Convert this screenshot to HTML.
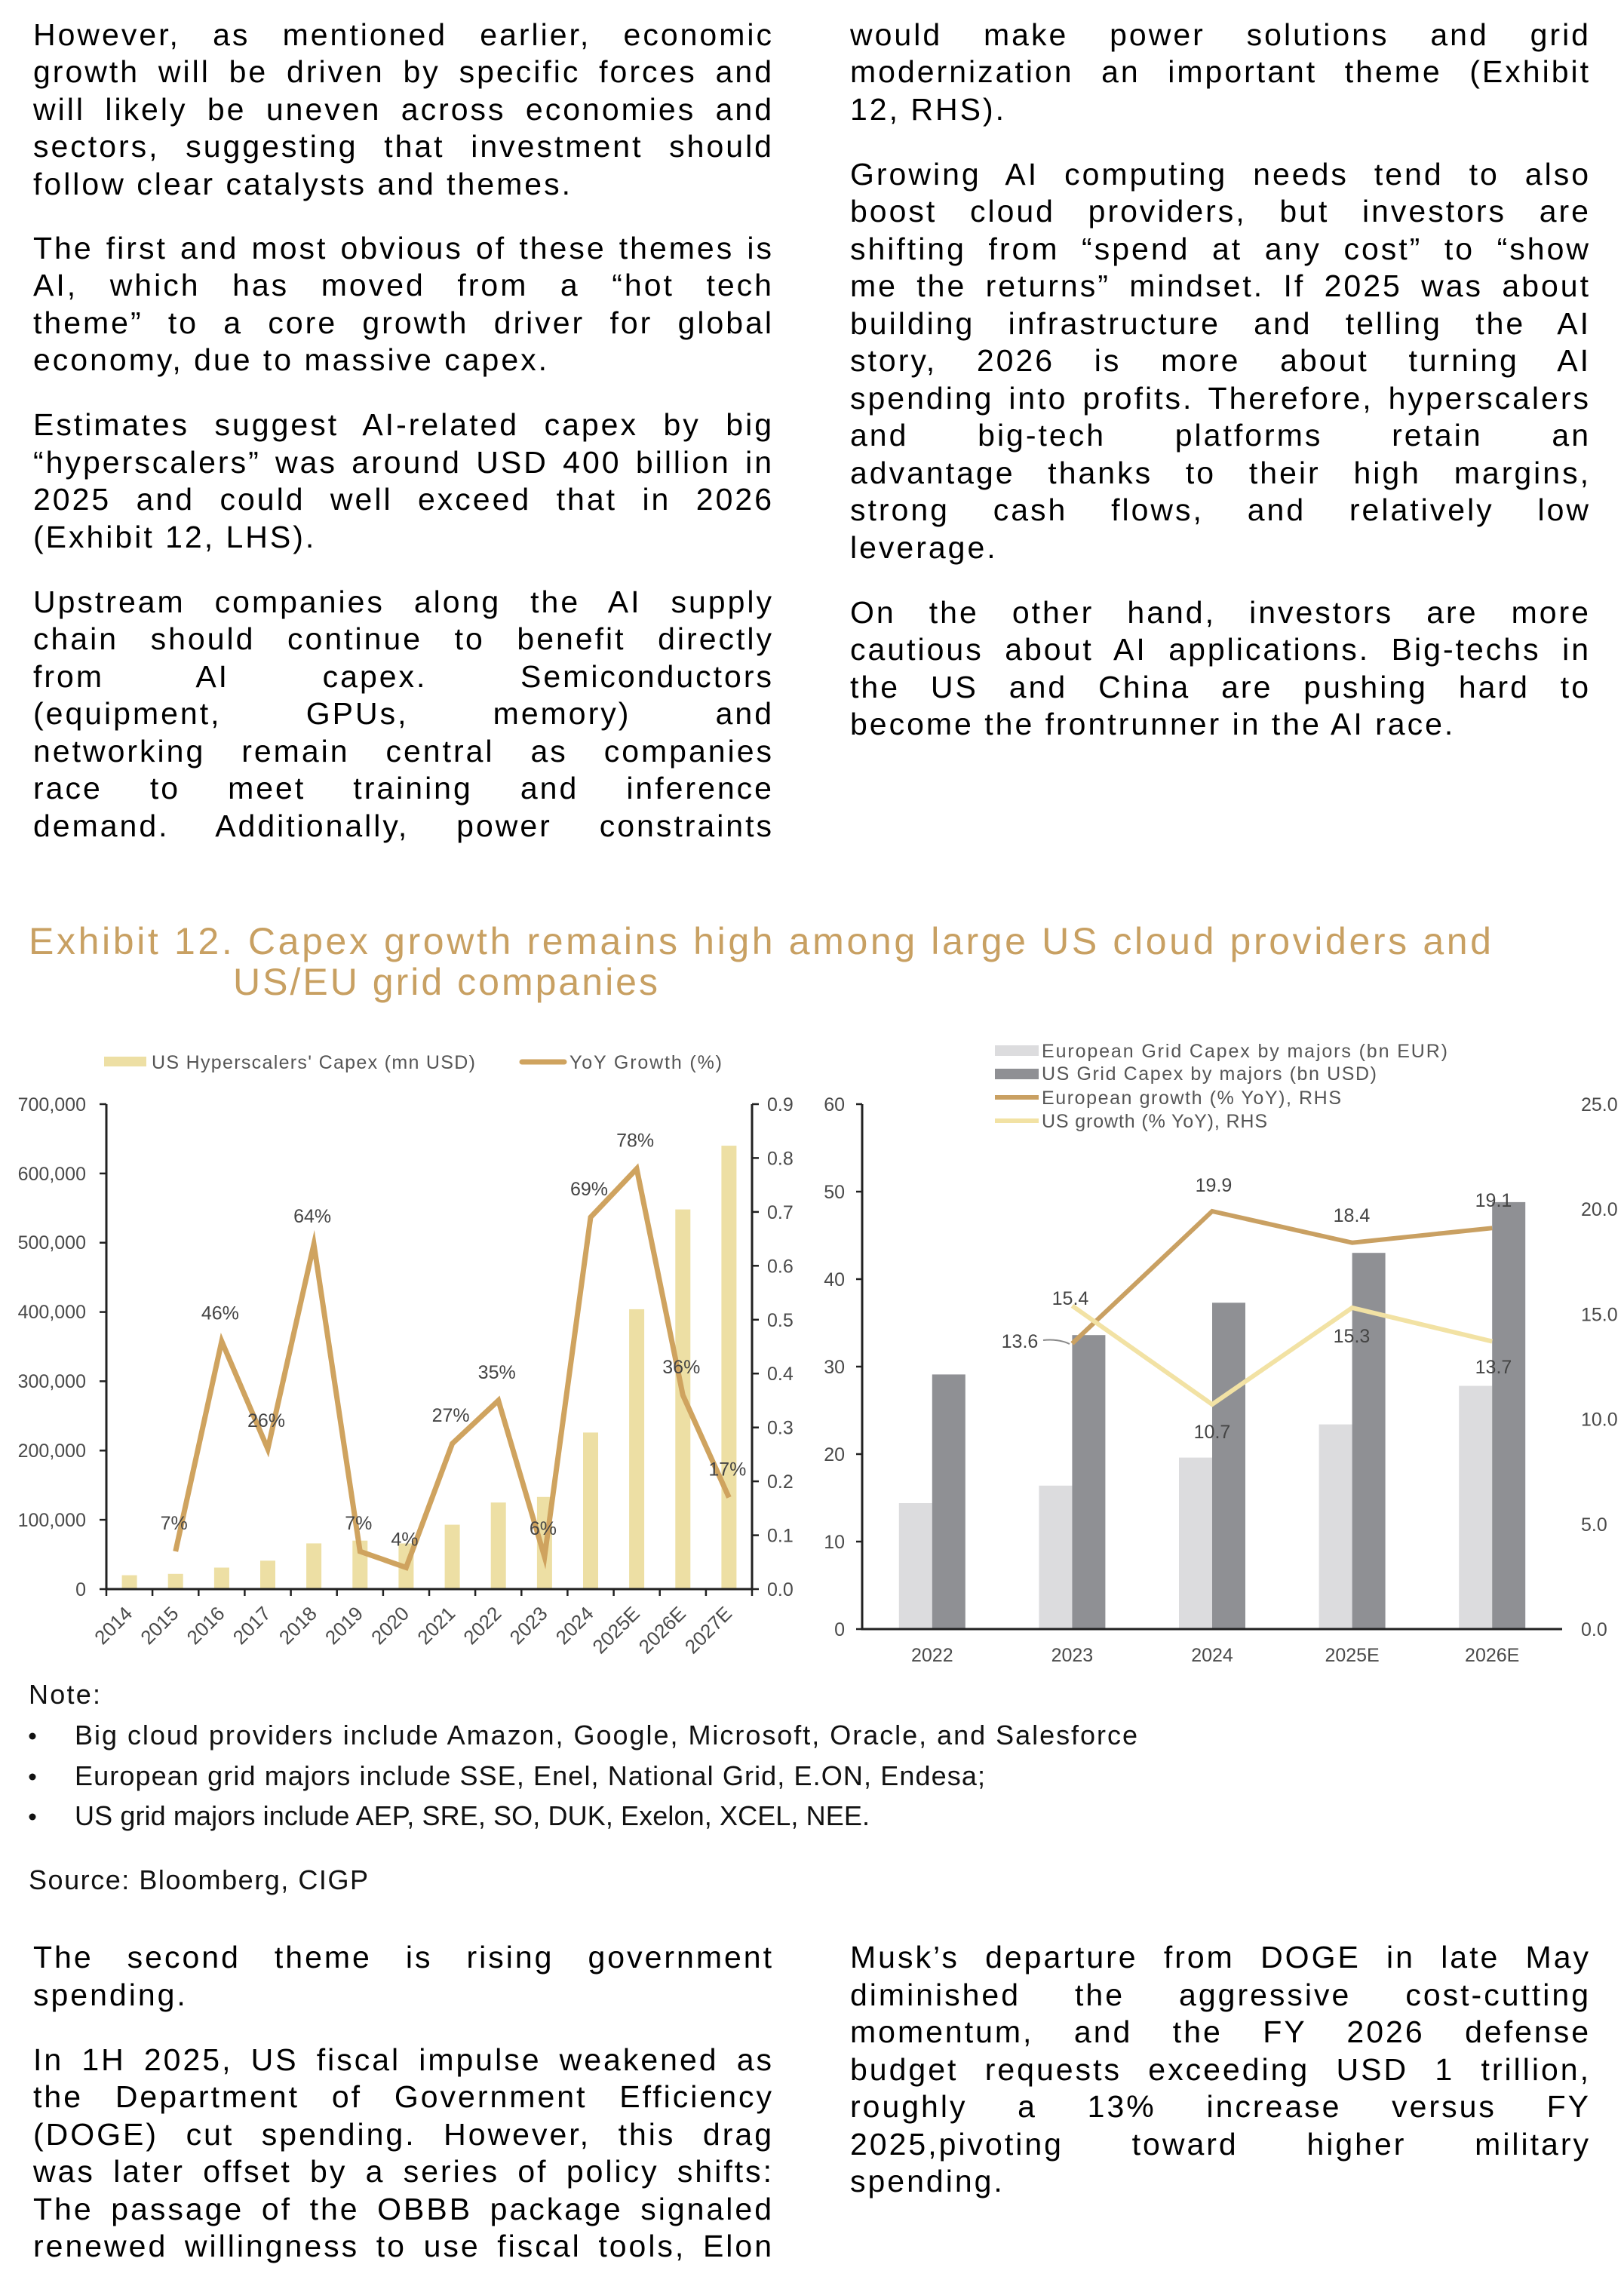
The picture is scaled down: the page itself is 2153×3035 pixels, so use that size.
<!DOCTYPE html>
<html><head><meta charset="utf-8">
<style>
html,body{margin:0;padding:0;background:#fff;}
#page{position:relative;width:2153px;height:3035px;overflow:hidden;background:#fff;}
.p{position:absolute;width:982px;font-family:"Liberation Sans",sans-serif;font-size:41px;line-height:49.5px;letter-spacing:3px;color:#000;}
.p div{height:49.5px;text-align:justify;text-align-last:justify;}
.p div.l{text-align:left;text-align-last:left;}
svg{position:absolute;left:0;top:0;}
</style></head>
<body><div id="page">

<div class="p" style="left:44px;top:21.5px">
<div>However, as mentioned earlier, economic</div>
<div>growth will be driven by specific forces and</div>
<div>will likely be uneven across economies and</div>
<div>sectors, suggesting that investment should</div>
<div class="l">follow clear catalysts and themes.</div>
</div>
<div class="p" style="left:44px;top:304.5px">
<div>The first and most obvious of these themes is</div>
<div>AI, which has moved from a “hot tech</div>
<div>theme” to a core growth driver for global</div>
<div class="l">economy, due to massive capex.</div>
</div>
<div class="p" style="left:44px;top:539px">
<div>Estimates suggest AI-related capex by big</div>
<div>“hyperscalers” was around USD 400 billion in</div>
<div>2025 and could well exceed that in 2026</div>
<div class="l">(Exhibit 12, LHS).</div>
</div>
<div class="p" style="left:44px;top:773.5px">
<div>Upstream companies along the AI supply</div>
<div>chain should continue to benefit directly</div>
<div>from AI capex. Semiconductors</div>
<div>(equipment, GPUs, memory) and</div>
<div>networking remain central as companies</div>
<div>race to meet training and inference</div>
<div>demand. Additionally, power constraints</div>
</div>

<div class="p" style="left:1127px;top:21.5px">
<div>would make power solutions and grid</div>
<div>modernization an important theme (Exhibit</div>
<div class="l">12, RHS).</div>
</div>
<div class="p" style="left:1127px;top:206.5px">
<div>Growing AI computing needs tend to also</div>
<div>boost cloud providers, but investors are</div>
<div>shifting from “spend at any cost” to “show</div>
<div>me the returns” mindset. If 2025 was about</div>
<div>building infrastructure and telling the AI</div>
<div>story, 2026 is more about turning AI</div>
<div>spending into profits. Therefore, hyperscalers</div>
<div>and big-tech platforms retain an</div>
<div>advantage thanks to their high margins,</div>
<div>strong cash flows, and relatively low</div>
<div class="l">leverage.</div>
</div>
<div class="p" style="left:1127px;top:787.5px">
<div>On the other hand, investors are more</div>
<div>cautious about AI applications. Big-techs in</div>
<div>the US and China are pushing hard to</div>
<div class="l">become the frontrunner in the AI race.</div>
</div>

<div class="p" style="left:44px;top:2571px">
<div>The second theme is rising government</div>
<div class="l">spending.</div>
</div>
<div class="p" style="left:44px;top:2706.5px">
<div>In 1H 2025, US fiscal impulse weakened as</div>
<div>the Department of Government Efficiency</div>
<div>(DOGE) cut spending. However, this drag</div>
<div>was later offset by a series of policy shifts:</div>
<div>The passage of the OBBB package signaled</div>
<div>renewed willingness to use fiscal tools, Elon</div>
</div>
<div class="p" style="left:1127px;top:2571px">
<div>Musk’s departure from DOGE in late May</div>
<div>diminished the aggressive cost-cutting</div>
<div>momentum, and the FY 2026 defense</div>
<div>budget requests exceeding USD 1 trillion,</div>
<div>roughly a 13% increase versus FY</div>
<div>2025,pivoting toward higher military</div>
<div class="l">spending.</div>
</div>

<svg width="2153" height="3035" viewBox="0 0 2153 3035" font-family="'Liberation Sans', sans-serif">
<!-- Title -->
<text x="38" y="1265" font-size="50" fill="#c8a062" textLength="1939" lengthAdjust="spacing">Exhibit 12. Capex growth remains high among large US cloud providers and</text>
<text x="309" y="1319" font-size="50" fill="#c8a062" textLength="563" lengthAdjust="spacing">US/EU grid companies</text>

<!-- LEFT CHART legend -->
<rect x="138" y="1401" width="56" height="13" fill="#eddfa4"/>
<text x="201" y="1417" font-size="25" fill="#555" textLength="429" lengthAdjust="spacing">US Hyperscalers' Capex (mn USD)</text>
<line x1="692" y1="1408" x2="748" y2="1408" stroke="#cfa35f" stroke-width="7" stroke-linecap="round"/>
<text x="755" y="1417" font-size="25" fill="#555" textLength="202" lengthAdjust="spacing">YoY Growth (%)</text>

<!-- left chart bars -->
<g fill="#eddfa4">
<rect x="161.6" y="2088.6" width="20" height="18.4"/>
<rect x="222.7" y="2086.8" width="20" height="20.2"/>
<rect x="283.9" y="2078.5" width="20" height="28.5"/>
<rect x="345" y="2069.3" width="20" height="37.7"/>
<rect x="406.1" y="2046.4" width="20" height="60.6"/>
<rect x="467.3" y="2042.7" width="20" height="64.3"/>
<rect x="528.4" y="2046.4" width="20" height="60.6"/>
<rect x="589.6" y="2021.6" width="20" height="85.4"/>
<rect x="650.7" y="1992.2" width="20" height="114.8"/>
<rect x="711.9" y="1984.8" width="20" height="122.2"/>
<rect x="773" y="1899.4" width="20" height="207.6"/>
<rect x="834.1" y="1735.9" width="20" height="371.1"/>
<rect x="895.3" y="1603.6" width="20" height="503.4"/>
<rect x="956.4" y="1519.1" width="20" height="587.9"/>
</g>

<!-- left chart axes -->
<g stroke="#222" stroke-width="3" fill="none">
<line x1="141" y1="1464" x2="141" y2="2108"/>
<line x1="997" y1="1464" x2="997" y2="2108"/>
<line x1="139.5" y1="2107" x2="998.5" y2="2107"/>
</g>
<g stroke="#222" stroke-width="2.5">
<line x1="132" y1="2107" x2="141" y2="2107"/>
<line x1="132" y1="2015.1" x2="141" y2="2015.1"/>
<line x1="132" y1="1923.3" x2="141" y2="1923.3"/>
<line x1="132" y1="1831.4" x2="141" y2="1831.4"/>
<line x1="132" y1="1739.6" x2="141" y2="1739.6"/>
<line x1="132" y1="1647.7" x2="141" y2="1647.7"/>
<line x1="132" y1="1555.9" x2="141" y2="1555.9"/>
<line x1="132" y1="1464" x2="141" y2="1464"/>
<line x1="997" y1="2107" x2="1006" y2="2107"/>
<line x1="997" y1="2035.6" x2="1006" y2="2035.6"/>
<line x1="997" y1="1964.1" x2="1006" y2="1964.1"/>
<line x1="997" y1="1892.7" x2="1006" y2="1892.7"/>
<line x1="997" y1="1821.2" x2="1006" y2="1821.2"/>
<line x1="997" y1="1749.8" x2="1006" y2="1749.8"/>
<line x1="997" y1="1678.3" x2="1006" y2="1678.3"/>
<line x1="997" y1="1606.9" x2="1006" y2="1606.9"/>
<line x1="997" y1="1535.4" x2="1006" y2="1535.4"/>
<line x1="997" y1="1464" x2="1006" y2="1464"/>
<line x1="141" y1="2107" x2="141" y2="2116"/>
<line x1="202.1" y1="2107" x2="202.1" y2="2116"/>
<line x1="263.3" y1="2107" x2="263.3" y2="2116"/>
<line x1="324.4" y1="2107" x2="324.4" y2="2116"/>
<line x1="385.6" y1="2107" x2="385.6" y2="2116"/>
<line x1="446.7" y1="2107" x2="446.7" y2="2116"/>
<line x1="507.9" y1="2107" x2="507.9" y2="2116"/>
<line x1="569" y1="2107" x2="569" y2="2116"/>
<line x1="630.1" y1="2107" x2="630.1" y2="2116"/>
<line x1="691.3" y1="2107" x2="691.3" y2="2116"/>
<line x1="752.4" y1="2107" x2="752.4" y2="2116"/>
<line x1="813.6" y1="2107" x2="813.6" y2="2116"/>
<line x1="874.7" y1="2107" x2="874.7" y2="2116"/>
<line x1="935.9" y1="2107" x2="935.9" y2="2116"/>
<line x1="997" y1="2107" x2="997" y2="2116"/>
</g>

<!-- left chart axis labels -->
<g font-size="25" fill="#4a4a4a" text-anchor="end">
<text x="114" y="2116">0</text>
<text x="114" y="2024">100,000</text>
<text x="114" y="1932">200,000</text>
<text x="114" y="1840">300,000</text>
<text x="114" y="1748">400,000</text>
<text x="114" y="1656">500,000</text>
<text x="114" y="1565">600,000</text>
<text x="114" y="1473">700,000</text>
</g>
<g font-size="25" fill="#4a4a4a">
<text x="1017" y="2116">0.0</text>
<text x="1017" y="2044.6">0.1</text>
<text x="1017" y="1973.1">0.2</text>
<text x="1017" y="1901.7">0.3</text>
<text x="1017" y="1830.2">0.4</text>
<text x="1017" y="1758.8">0.5</text>
<text x="1017" y="1687.3">0.6</text>
<text x="1017" y="1615.9">0.7</text>
<text x="1017" y="1544.4">0.8</text>
<text x="1017" y="1473">0.9</text>
</g>
<g font-size="26" fill="#4a4a4a" text-anchor="end">
<text x="177" y="2141" transform="rotate(-45 177 2141)">2014</text>
<text x="238.2" y="2141" transform="rotate(-45 238.2 2141)">2015</text>
<text x="299.4" y="2141" transform="rotate(-45 299.4 2141)">2016</text>
<text x="360.5" y="2141" transform="rotate(-45 360.5 2141)">2017</text>
<text x="421.6" y="2141" transform="rotate(-45 421.6 2141)">2018</text>
<text x="482.8" y="2141" transform="rotate(-45 482.8 2141)">2019</text>
<text x="543.9" y="2141" transform="rotate(-45 543.9 2141)">2020</text>
<text x="605.1" y="2141" transform="rotate(-45 605.1 2141)">2021</text>
<text x="666.2" y="2141" transform="rotate(-45 666.2 2141)">2022</text>
<text x="727.4" y="2141" transform="rotate(-45 727.4 2141)">2023</text>
<text x="788.5" y="2141" transform="rotate(-45 788.5 2141)">2024</text>
<text x="849.6" y="2141" transform="rotate(-45 849.6 2141)">2025E</text>
<text x="910.8" y="2141" transform="rotate(-45 910.8 2141)">2026E</text>
<text x="971.9" y="2141" transform="rotate(-45 971.9 2141)">2027E</text>
</g>

<!-- left chart line -->
<polyline fill="none" stroke="#cfa35f" stroke-width="7" stroke-linejoin="miter" stroke-miterlimit="10"
points="232.7,2057 293.9,1778.4 355,1921.2 416.1,1649.8 477.3,2057 538.4,2078.4 599.6,1914.1 660.7,1856.9 721.9,2064.1 783,1614 844.1,1549.7 905.3,1849.8 966.4,1985.5"/>

<g font-size="25" fill="#444" text-anchor="middle">
<text x="230.7" y="2028">7%</text>
<text x="291.9" y="1749.4">46%</text>
<text x="353" y="1892.2">26%</text>
<text x="414.1" y="1620.8">64%</text>
<text x="475.3" y="2028">7%</text>
<text x="536.4" y="2049.4">4%</text>
<text x="597.6" y="1885.1">27%</text>
<text x="658.7" y="1827.9">35%</text>
<text x="719.9" y="2035.1">6%</text>
<text x="781" y="1585">69%</text>
<text x="842.1" y="1520.7">78%</text>
<text x="903.3" y="1820.8">36%</text>
<text x="964.4" y="1956.5">17%</text>
</g>

<!-- RIGHT CHART legend -->
<rect x="1319" y="1386" width="58" height="14" fill="#dcdcde"/>
<text x="1381" y="1402" font-size="25" fill="#555" textLength="538" lengthAdjust="spacing">European Grid Capex by majors (bn EUR)</text>
<rect x="1319" y="1417" width="58" height="14" fill="#8f9094"/>
<text x="1381" y="1432" font-size="25" fill="#555" textLength="444" lengthAdjust="spacing">US Grid Capex by majors (bn USD)</text>
<line x1="1319" y1="1455" x2="1377" y2="1455" stroke="#c9a062" stroke-width="6"/>
<text x="1381" y="1464" font-size="25" fill="#555" textLength="397" lengthAdjust="spacing">European growth (% YoY), RHS</text>
<line x1="1319" y1="1486" x2="1377" y2="1486" stroke="#f2e2a4" stroke-width="6"/>
<text x="1381" y="1495" font-size="25" fill="#555" textLength="299" lengthAdjust="spacing">US growth (% YoY), RHS</text>

<!-- right chart bars -->
<g fill="#dcdcde">
<rect x="1191.8" y="1993" width="44" height="167"/>
<rect x="1377.4" y="1969.8" width="44" height="190.2"/>
<rect x="1563" y="1932.6" width="44" height="227.4"/>
<rect x="1748.6" y="1888.6" width="44" height="271.4"/>
<rect x="1934.2" y="1837.5" width="44" height="322.5"/>
</g>
<g fill="#8f9094">
<rect x="1235.8" y="1822.4" width="44" height="337.6"/>
<rect x="1421.4" y="1770.2" width="44" height="389.8"/>
<rect x="1607" y="1727.3" width="44" height="432.7"/>
<rect x="1792.6" y="1661.2" width="44" height="498.8"/>
<rect x="1978.2" y="1593.9" width="44" height="566.1"/>
</g>

<!-- right chart axes -->
<g stroke="#222" stroke-width="3">
<line x1="1143" y1="1464" x2="1143" y2="2161"/>
<line x1="1141.5" y1="2160" x2="2071" y2="2160"/>
</g>
<g stroke="#222" stroke-width="2.5">
<line x1="1135" y1="2160" x2="1143" y2="2160"/>
<line x1="1135" y1="2044" x2="1143" y2="2044"/>
<line x1="1135" y1="1928" x2="1143" y2="1928"/>
<line x1="1135" y1="1812" x2="1143" y2="1812"/>
<line x1="1135" y1="1696" x2="1143" y2="1696"/>
<line x1="1135" y1="1580" x2="1143" y2="1580"/>
<line x1="1135" y1="1464" x2="1143" y2="1464"/>
</g>
<g font-size="25" fill="#4a4a4a" text-anchor="end">
<text x="1120" y="2169">0</text>
<text x="1120" y="2053">10</text>
<text x="1120" y="1937">20</text>
<text x="1120" y="1821">30</text>
<text x="1120" y="1705">40</text>
<text x="1120" y="1589">50</text>
<text x="1120" y="1473">60</text>
</g>
<g font-size="25" fill="#4a4a4a">
<text x="2096" y="2169">0.0</text>
<text x="2096" y="2029.8">5.0</text>
<text x="2096" y="1890.6">10.0</text>
<text x="2096" y="1751.4">15.0</text>
<text x="2096" y="1612.2">20.0</text>
<text x="2096" y="1473">25.0</text>
</g>
<g font-size="25" fill="#4a4a4a" text-anchor="middle">
<text x="1235.8" y="2203">2022</text>
<text x="1421.4" y="2203">2023</text>
<text x="1607" y="2203">2024</text>
<text x="1792.6" y="2203">2025E</text>
<text x="1978.2" y="2203">2026E</text>
</g>

<!-- right chart lines -->
<polyline fill="none" stroke="#c9a062" stroke-width="6" points="1421.4,1781.4 1607,1606 1792.6,1647.7 1978.2,1628.3"/>
<polyline fill="none" stroke="#f2e2a4" stroke-width="6" points="1421.4,1731.3 1607,1862.1 1792.6,1734 1978.2,1778.6"/>
<path d="M1383,1777 Q1404,1775 1418,1782" fill="none" stroke="#888" stroke-width="2"/>
<g font-size="25" fill="#444" text-anchor="middle">
<text x="1609" y="1580">19.9</text>
<text x="1792" y="1620">18.4</text>
<text x="1980" y="1600">19.1</text>
<text x="1419" y="1730">15.4</text>
<text x="1352" y="1787">13.6</text>
<text x="1792" y="1780">15.3</text>
<text x="1980" y="1821">13.7</text>
<text x="1607" y="1907">10.7</text>
</g>

<!-- Notes -->
<g font-size="36" fill="#111">
<text x="38" y="2259" textLength="95" lengthAdjust="spacing">Note:</text>
<circle cx="43" cy="2302" r="4.5"/>
<text x="99" y="2313" textLength="1409" lengthAdjust="spacing">Big cloud providers include Amazon, Google, Microsoft, Oracle, and Salesforce</text>
<circle cx="43" cy="2356" r="4.5"/>
<text x="99" y="2367" textLength="1207" lengthAdjust="spacing">European grid majors include SSE, Enel, National Grid, E.ON, Endesa;</text>
<circle cx="43" cy="2409" r="4.5"/>
<text x="99" y="2420" textLength="1054" lengthAdjust="spacing">US grid majors include AEP, SRE, SO, DUK, Exelon, XCEL, NEE.</text>
<text x="38" y="2505" textLength="450" lengthAdjust="spacing">Source: Bloomberg, CIGP</text>
</g>
</svg>
</div></body></html>
